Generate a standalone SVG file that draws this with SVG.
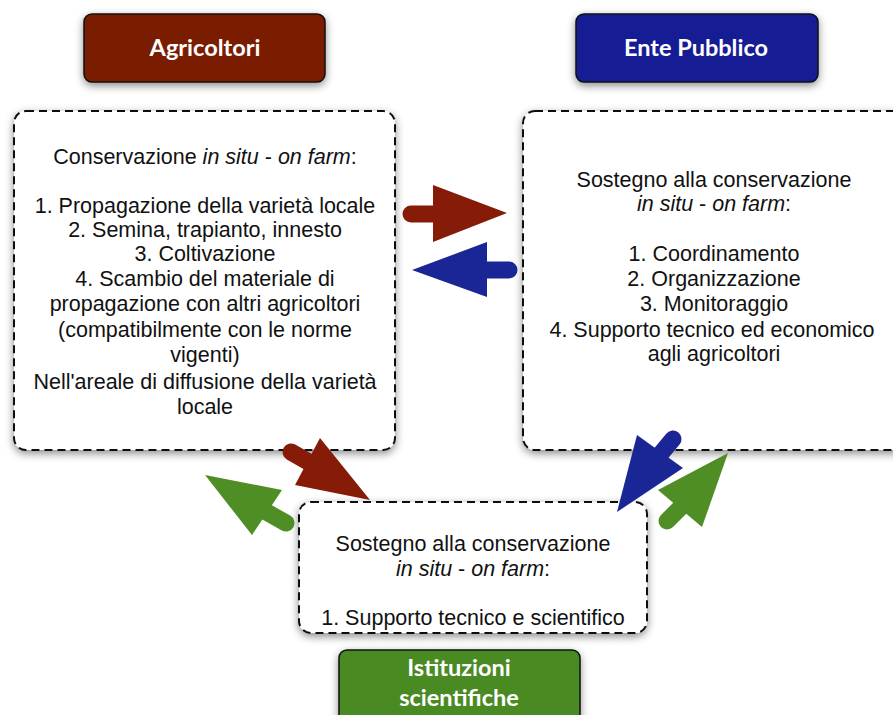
<svg xmlns="http://www.w3.org/2000/svg" width="893" height="715" viewBox="0 0 893 715">
<defs>
<filter id="sh" x="-10%" y="-10%" width="125%" height="130%">
<feDropShadow dx="0" dy="3" stdDeviation="4" flood-color="#000" flood-opacity="0.45"/>
</filter>
</defs>
<style>
.hdr{stroke:#111;stroke-width:1.5}
.htxt{font-family:Lato,"Open Sans",sans-serif;font-weight:bold;font-size:23.5px;fill:#fff;text-anchor:middle}
.dbox{fill:#fff;stroke:#111;stroke-width:2;stroke-dasharray:8 5}
.t{font-family:"Liberation Sans",Arial,sans-serif;font-size:21.5px;fill:#111;text-anchor:middle}
.i{font-style:italic}
.stub{fill:none;stroke-width:17;stroke-linecap:round}
</style>
<rect width="893" height="715" fill="#fff"/>

<g id="agricoltori">
<rect class="hdr" x="84" y="14" width="241" height="68" rx="8" fill="#7a1b02" filter="url(#sh)"/>
<text class="htxt" x="205" y="56">Agricoltori</text>
</g>

<g id="ente-pubblico">
<rect class="hdr" x="576" y="14" width="242" height="68" rx="8" fill="#141a94" filter="url(#sh)"/>
<text class="htxt" x="696" y="56">Ente Pubblico</text>
</g>

<g id="istituzioni-scientifiche">
<rect class="hdr" x="339" y="650" width="241" height="75" rx="8" fill="#4a8a22" filter="url(#sh)"/>
<text class="htxt" x="459" y="676">Istituzioni</text>
<text class="htxt" x="459" y="706">scientifiche</text>
</g>

<g id="box-agricoltori">
<rect class="dbox" x="14" y="111" width="381" height="339" rx="12" filter="url(#sh)"/>
<text class="t" x="205" y="164">Conservazione <tspan class="i">in situ</tspan> - <tspan class="i">on farm</tspan>:</text>
<text class="t" x="205" y="213">1. Propagazione della varietà locale</text>
<text class="t" x="205" y="237">2. Semina, trapianto, innesto</text>
<text class="t" x="205" y="261">3. Coltivazione</text>
<text class="t" x="205" y="286">4. Scambio del materiale di</text>
<text class="t" x="205" y="311">propagazione con altri agricoltori</text>
<text class="t" x="205" y="337">(compatibilmente con le norme</text>
<text class="t" x="205" y="362">vigenti)</text>
<text class="t" x="205" y="389">Nell'areale di diffusione della varietà</text>
<text class="t" x="205" y="414">locale</text>
</g>

<g id="box-ente">
<rect class="dbox" x="523" y="111" width="390" height="339" rx="12" filter="url(#sh)"/>
<text class="t" x="714" y="187">Sostegno alla conservazione</text>
<text class="t" x="714" y="211"><tspan class="i">in situ</tspan> - <tspan class="i">on farm</tspan>:</text>
<text class="t" x="714" y="261">1. Coordinamento</text>
<text class="t" x="714" y="286">2. Organizzazione</text>
<text class="t" x="714" y="311">3. Monitoraggio</text>
<text class="t" x="712" y="337">4. Supporto tecnico ed economico</text>
<text class="t" x="714" y="361">agli agricoltori</text>
</g>

<g id="box-istituzioni">
<rect class="dbox" x="299" y="502" width="348" height="131" rx="12" filter="url(#sh)"/>
<text class="t" x="473" y="551">Sostegno alla conservazione</text>
<text class="t" x="473" y="576"><tspan class="i">in situ</tspan> - <tspan class="i">on farm</tspan>:</text>
<text class="t" x="473" y="625">1. Supporto tecnico e scientifico</text>
</g>

<g id="connectors">
<g fill="#861b08" stroke="#861b08">
<line class="stub" x1="411" y1="214" x2="440" y2="214"/>
<polygon stroke="none" points="433,185 507,213 433,242"/>
</g>
<g fill="#1a2596" stroke="#1a2596">
<line class="stub" x1="482" y1="270" x2="509" y2="270"/>
<polygon stroke="none" points="487,242 412,270 487,297"/>
</g>
<g fill="#861b08" stroke="#861b08">
<line class="stub" x1="291" y1="452" x2="312" y2="464"/>
<polygon stroke="none" points="320,438 370,500 295,485"/>
</g>
<g fill="#4e8e25" stroke="#4e8e25">
<line class="stub" x1="263" y1="510" x2="286" y2="523"/>
<polygon stroke="none" points="282,490 205,475 252,535"/>
</g>
<g fill="#1a2596" stroke="#1a2596">
<line class="stub" x1="658" y1="457" x2="673" y2="439"/>
<polygon stroke="none" points="637,435 617,512 683,468"/>
</g>
<g fill="#4e8e25" stroke="#4e8e25">
<line class="stub" x1="682" y1="506" x2="667" y2="521"/>
<polygon stroke="none" points="658,490 728,453 702,527"/>
</g>
</g>
</svg>
